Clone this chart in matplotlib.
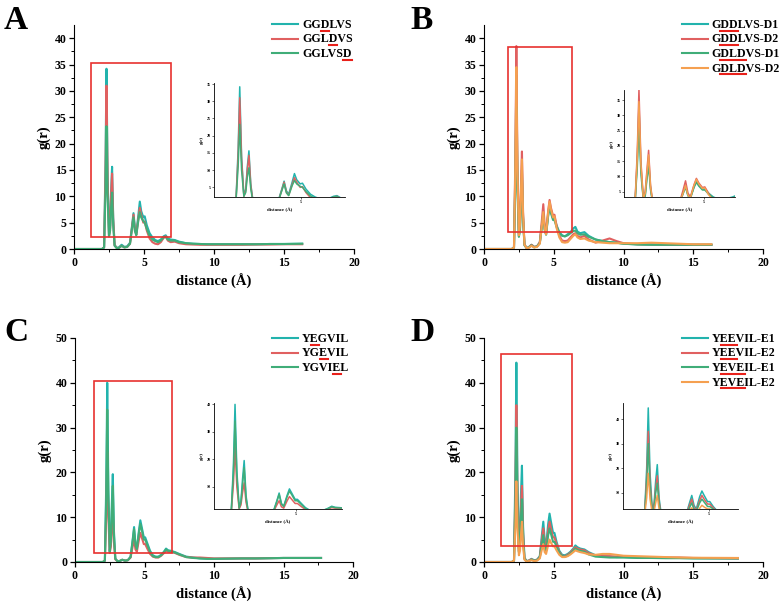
import numpy as np
import matplotlib
matplotlib.use('Agg')
import matplotlib.pyplot as plt
from matplotlib.lines import Line2D
from matplotlib.patches import Rectangle
from matplotlib.font_manager import FontProperties

plt.rcParams['font.family'] = ['Liberation Serif', 'DejaVu Serif']
plt.rcParams['font.weight'] = 'bold'
plt.rcParams['axes.labelweight'] = 'bold'

W, H = 780, 602

# 距离网格 (Å)
r_AB = [0.0, 2.0, 2.15, 2.25, 2.32, 2.4, 2.5, 2.58, 2.65, 2.72, 2.8, 2.9, 3.05, 3.2, 3.4, 3.6,
        3.8, 4.0, 4.15, 4.25, 4.35, 4.45, 4.6, 4.7, 4.8, 4.95, 5.05, 5.2, 5.4, 5.6, 5.8, 6.0,
        6.2, 6.4, 6.55, 6.7, 6.9, 7.2, 7.5, 8.0, 8.5, 9.0, 9.5, 10.0, 11.0, 12.0, 13.0, 14.0,
        15.0, 16.3]
r_C = r_AB[:-1] + [17.7]
r_D = r_AB[:-1] + [18.2]

# 图 A
labels_A = ['GGDLVS', 'GGLDVS', 'GGLVSD']
ul_A = [(2, 3), (3, 4), (5, 6)]
g_A1 = [0, 0, 0.3, 16, 34.2, 14, 2.6, 4.5, 11, 15.6, 6, 0.8, 0.2, 0.3, 0.8, 0.4, 0.5, 1.2, 4.5,
        6.8, 4.0, 3.0, 6.5, 9.0, 7.2, 6.0, 6.2, 4.5, 3.0, 2.2, 1.7, 1.5, 1.8, 2.4, 2.6, 2.0, 1.8,
        1.7, 1.4, 1.1, 1.0, 0.95, 0.9, 0.9, 0.9, 0.9, 0.9, 0.95, 0.95, 1.0]
g_A2 = [0, 0, 0.3, 14, 31, 13, 2.4, 4, 10, 14.3, 5.5, 0.7, 0.2, 0.2, 0.6, 0.3, 0.4, 1.0, 4.2,
        6.5, 3.6, 2.7, 5.8, 7.8, 6.5, 5.0, 5.2, 3.5, 2.0, 1.3, 1.0, 0.9, 1.3, 2.1, 2.4, 1.6, 1.3,
        1.4, 1.1, 0.9, 0.85, 0.8, 0.8, 0.8, 0.8, 0.8, 0.85, 0.85, 0.9, 0.9]
g_A3 = [0, 0, 0.3, 11, 23.3, 10, 2.4, 3.5, 8, 10.7, 4.5, 0.6, 0.2, 0.2, 0.6, 0.3, 0.4, 1.0, 4.0,
        6.0, 3.4, 2.6, 5.5, 7.0, 6.0, 5.3, 5.0, 3.8, 2.5, 1.8, 1.5, 1.3, 1.6, 2.2, 2.3, 1.8, 1.6,
        1.6, 1.3, 1.1, 1.0, 0.95, 0.9, 0.9, 0.9, 0.9, 0.9, 0.95, 0.95, 1.0]

# 图 B
labels_B = ['GDDLVS-D1', 'GDDLVS-D2', 'GDLDVS-D1', 'GDLDVS-D2']
ul_B = [(1, 3), (1, 3), (1, 4), (1, 4)]
g_B1 = [0, 0, 0.3, 15, 33, 13, 2.5, 4, 10, 15, 6, 0.8, 0.2, 0.3, 0.8, 0.4, 0.5, 1.2, 4.5, 6.5,
        3.8, 2.8, 6.5, 8.5, 7, 5.8, 5.8, 4.5, 3.2, 2.6, 2.4, 2.8, 3.2, 3.9, 4.2, 3.3, 3.0, 3.2,
        2.5, 1.8, 1.5, 1.3, 1.2, 1.0, 0.9, 0.85, 0.8, 0.8, 0.8, 0.8]
g_B2 = [0, 0, 0.3, 18, 38.5, 15, 2.8, 5, 12, 18.5, 7, 0.9, 0.2, 0.3, 0.8, 0.4, 0.5, 1.3, 5.5, 8.5,
        4.5, 3.2, 7.2, 9.3, 7.8, 6.3, 6.5, 4.5, 2.5, 1.6, 1.5, 1.6, 2.2, 2.8, 3.0, 2.5, 2.2, 2.5,
        1.8, 1.2, 1.6, 2.0, 1.5, 1.1, 0.9, 0.85, 0.8, 0.8, 0.8, 0.8]
g_B3 = [0, 0, 0.3, 13, 27, 11, 2.3, 3.5, 9, 13.5, 5.5, 0.7, 0.2, 0.3, 0.7, 0.3, 0.5, 1.1, 4.3, 6.5,
        3.6, 2.7, 6.3, 8.0, 6.8, 5.5, 5.5, 4.2, 3.0, 2.5, 2.4, 2.6, 3.0, 3.4, 3.5, 3.0, 2.7, 2.8,
        2.3, 1.8, 1.5, 1.3, 1.2, 1.0, 0.85, 0.8, 0.8, 0.8, 0.8, 0.8]
g_B4 = [0, 0, 0.3, 16, 34.5, 14, 2.6, 4.5, 11, 17, 6.5, 0.8, 0.2, 0.2, 0.6, 0.3, 0.4, 1.0, 4.5, 7.0,
        3.8, 2.8, 7.0, 9.0, 7.5, 6.0, 6.2, 4.0, 2.2, 1.3, 1.2, 1.3, 1.9, 2.5, 2.8, 2.2, 1.9, 2.0,
        1.6, 1.3, 1.2, 1.1, 1.1, 1.1, 1.1, 1.2, 1.1, 1.0, 0.9, 0.9]

# 图 C
labels_C = ['YEGVIL', 'YGEVIL', 'YGVIEL']
ul_C = [(1, 2), (2, 3), (4, 5)]
g_C1 = [0, 0, 0.3, 18, 40, 16, 2.5, 5, 13, 19.6, 7, 0.8, 0.2, 0.2, 0.5, 0.3, 0.4, 1.2, 5, 7.8,
        4, 3, 7, 9.3, 7.8, 5.5, 5.5, 4.2, 2.5, 1.5, 1.2, 1.2, 1.6, 2.3, 3.0, 2.6, 2.5, 2.2, 1.8,
        1.2, 1.0, 0.8, 0.75, 0.7, 0.75, 0.8, 0.8, 0.85, 0.9, 0.9]
g_C2 = [0, 0, 0.3, 11, 24.5, 10, 2, 3.5, 8, 11.5, 4.5, 0.6, 0.2, 0.2, 0.5, 0.3, 0.4, 1.0, 3.5, 5.0,
        2.8, 2.3, 5, 6.5, 5.5, 4.0, 4.0, 3.0, 1.8, 1.2, 1.0, 1.0, 1.4, 2.0, 2.5, 2.3, 2.2, 2.0, 1.6,
        1.1, 1.0, 1.0, 0.9, 0.8, 0.8, 0.8, 0.8, 0.85, 0.9, 0.9]
g_C3 = [0, 0, 0.3, 15, 34, 14, 2.3, 4.5, 11, 17, 6, 0.7, 0.2, 0.2, 0.5, 0.3, 0.4, 1.1, 4.7, 7.3,
        3.8, 2.9, 6.5, 8.5, 7.2, 5.0, 5.0, 3.8, 2.2, 1.3, 1.1, 1.1, 1.5, 2.2, 2.8, 2.5, 2.4, 2.1, 1.7,
        1.1, 0.9, 0.8, 0.7, 0.7, 0.75, 0.8, 0.8, 0.85, 0.9, 0.9]

# 图 D
labels_D = ['YEEVIL-E1', 'YEEVIL-E2', 'YEVEIL-E1', 'YEVEIL-E2']
ul_D = [(1, 3), (1, 3), (1, 4), (1, 4)]
g_D1 = [0, 0, 0.3, 20, 44.5, 18, 3, 6, 15, 21.5, 8, 1, 0.2, 0.3, 0.7, 0.4, 0.5, 1.3, 6, 9, 5, 3.5,
        8.5, 10.8, 9, 6.5, 6.5, 4.5, 2.5, 1.6, 1.5, 1.8, 2.3, 3.0, 3.7, 3.3, 3.0, 2.8, 2.2, 1.5,
        1.3, 1.2, 1.1, 1.1, 1.0, 1.0, 0.9, 0.9, 0.85, 0.8]
g_D2 = [0, 0, 0.3, 16, 35, 14, 2.5, 5, 12, 17, 6.5, 0.8, 0.2, 0.3, 0.6, 0.3, 0.5, 1.1, 5, 7.5, 4, 3,
        7, 9, 7.5, 5.5, 5.5, 4, 2.2, 1.4, 1.3, 1.6, 2.1, 2.8, 3.3, 3.0, 2.8, 2.6, 2.0, 1.4, 1.3,
        1.3, 1.2, 1.2, 1.1, 1.1, 1.0, 1.0, 0.9, 0.8]
g_D3 = [0, 0, 0.3, 13, 30, 12, 2.2, 4, 10, 14, 5.5, 0.7, 0.2, 0.2, 0.5, 0.3, 0.4, 1.0, 4, 6, 3.2,
        2.5, 6, 7.5, 6.3, 4.5, 4.5, 3.5, 2.0, 1.3, 1.2, 1.4, 1.9, 2.5, 3.0, 2.7, 2.5, 2.3, 1.7, 1.2,
        1.1, 1.0, 1.0, 1.0, 0.9, 0.9, 0.85, 0.85, 0.8, 0.8]
g_D4 = [0, 0, 0.3, 8, 18, 7.5, 1.5, 2.5, 6, 9, 3.5, 0.5, 0.1, 0.2, 0.4, 0.2, 0.3, 0.8, 2.8, 4, 2.2,
        1.8, 3.8, 5, 4.3, 3.5, 3.5, 2.6, 1.6, 1.1, 1.1, 1.3, 1.7, 2.2, 2.6, 2.4, 2.2, 2.0, 1.7, 1.6,
        1.8, 1.8, 1.6, 1.4, 1.3, 1.2, 1.1, 1.0, 0.95, 0.9]

colors3 = ['#22b3ad', '#e06060', '#40ad78']
colors4 = ['#22b3ad', '#e06060', '#40ad78', '#f5a050']

# 每个子图: 字母, r, 曲线, 标签, 下划线, 颜色, 主轴(px), 插图(px), 红框, y上限, y刻度步长, 图例位置(px)
panels = [
    dict(tag='A', r=r_AB, g=[g_A1, g_A2, g_A3], labels=labels_A, ul=ul_A, colors=colors3,
         ax=(74, 25, 354, 249), inset=(214, 83, 345, 197), box=(1.2, 6.9, 2.2, 35.3),
         ymax=42.5, ystep=5, leg=(272, 298, 302, 24), letter=(4, 29)),
    dict(tag='B', r=r_AB, g=[g_B1, g_B2, g_B3, g_B4], labels=labels_B, ul=ul_B, colors=colors4,
         ax=(484, 25, 763, 249), inset=(624, 90, 735, 197), box=(1.7, 6.3, 3.2, 38.3),
         ymax=42.5, ystep=5, leg=(682, 708, 711, 24), letter=(410, 29)),
    dict(tag='C', r=r_C, g=[g_C1, g_C2, g_C3], labels=labels_C, ul=ul_C, colors=colors3,
         ax=(75, 338, 353, 562), inset=(214, 403, 342, 509), box=(1.4, 7.0, 2.0, 40.5),
         ymax=50, ystep=10, leg=(272, 298, 302, 338), letter=(4, 341)),
    dict(tag='D', r=r_D, g=[g_D1, g_D2, g_D3, g_D4], labels=labels_D, ul=ul_D, colors=colors4,
         ax=(484, 338, 763, 562), inset=(623, 403, 738, 509), box=(1.2, 6.3, 3.5, 46.5),
         ymax=50, ystep=10, leg=(682, 708, 712, 338), letter=(410, 341)),
]


def rect(x0, y0, x1, y1):
    return [x0 / W, 1 - y1 / H, (x1 - x0) / W, (y1 - y0) / H]


fig = plt.figure(figsize=(W / 100, H / 100), dpi=100)
renderer = fig.canvas.get_renderer()
leg_fp = FontProperties(family='Liberation Serif', weight='bold', size=8.6)

for p in panels:
    ax = fig.add_axes(rect(*p['ax']))
    for gv, c in zip(p['g'], p['colors']):
        ax.plot(p['r'], gv, color=c, lw=1.5)
    ax.set_xlim(0, 20)
    ax.set_ylim(0, p['ymax'])
    ax.set_xticks([0, 5, 10, 15, 20])
    ax.set_xticks(np.arange(2.5, 20, 5), minor=True)
    ax.set_yticks(np.arange(0, p['ymax'] + 0.1, p['ystep']))
    ax.set_yticks(np.arange(p['ystep'] / 2, p['ymax'], p['ystep']), minor=True)
    for s in ['top', 'right']:
        ax.spines[s].set_visible(False)
    ax.tick_params(which='major', length=3.5, width=0.9, labelsize=8.5, pad=2)
    ax.tick_params(which='minor', length=2, width=0.7)
    ax.set_xlabel('distance (Å)', fontsize=10.5, labelpad=4)
    ax.set_ylabel('g(r)', fontsize=10.5, labelpad=3)
    x0, x1, y0, y1 = p['box']
    ax.add_patch(Rectangle((x0, y0), x1 - x0, y1 - y0, fill=False, ec='#e8312f', lw=1.2, zorder=5))

    # 放大插图
    ins = fig.add_axes(rect(*p['inset']))
    for gv, c in zip(p['g'], p['colors']):
        ins.plot(p['r'], gv, color=c, lw=1.1)
    ins.set_xlim(x0, x1)
    ins.set_ylim(y0, y1)
    ins.set_xticks([5])
    ins.set_yticks(np.arange(p['ystep'] if p['ystep'] == 10 else 5, y1, p['ystep']))
    for s in ['top', 'right']:
        ins.spines[s].set_visible(False)
    for s in ['left', 'bottom']:
        ins.spines[s].set_linewidth(0.6)
    ins.tick_params(length=1.5, width=0.4, labelsize=3, pad=1)
    ins.set_xlabel('distance (Å)', fontsize=3.5, labelpad=2)
    ins.set_ylabel('g(r)', fontsize=3.5, labelpad=2)

    # 图例 (部分字母红色下划线)
    lx0, lx1, tx, ly = p['leg']
    for i, (lab, c, (a, b)) in enumerate(zip(p['labels'], p['colors'], p['ul'])):
        yc = ly + i * 14.5
        fig.add_artist(Line2D([lx0 / W, lx1 / W], [1 - yc / H, 1 - yc / H], color=c, lw=1.5,
                              transform=fig.transFigure))
        base = yc + 4
        fig.text(tx / W, 1 - base / H, lab, fontproperties=leg_fp, va='baseline', ha='left')
        w_pre = renderer.get_text_width_height_descent(lab[:a], leg_fp, ismath=False)[0] if a > 0 else 0
        w_ul = renderer.get_text_width_height_descent(lab[:b], leg_fp, ismath=False)[0]
        uy = 1 - (base + 2.5) / H
        fig.add_artist(Line2D([(tx + w_pre) / W, (tx + w_ul) / W], [uy, uy], color='#e8201a', lw=1.5,
                              transform=fig.transFigure))

    fig.text(p['letter'][0] / W, 1 - p['letter'][1] / H, p['tag'], fontsize=24, fontweight='bold',
             va='baseline', ha='left')

fig.savefig('out.png', dpi=100)
